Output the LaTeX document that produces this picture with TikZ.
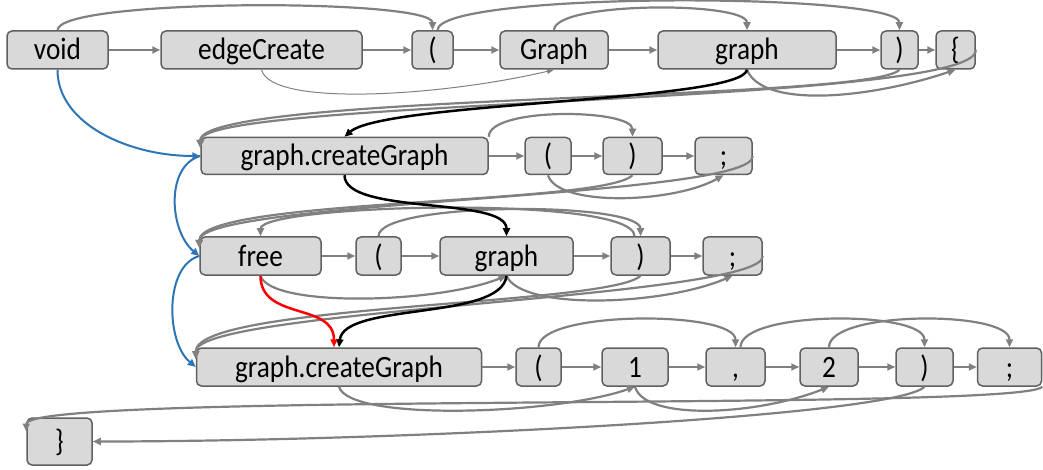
\documentclass[tikz,border=0pt]{standalone}
\usepackage{fontspec}
\setmainfont{Carlito}[FakeStretch=0.88]
\usetikzlibrary{arrows.meta}
\definecolor{tokfill}{HTML}{D9D9D9}
\definecolor{tokline}{HTML}{606060}
\definecolor{edgegray}{HTML}{808080}
\definecolor{ctrlblue}{HTML}{2E75B6}
\tikzset{
  tok/.style={draw=tokline, fill=tokfill, rounded corners=5pt, line width=1.5pt,
    minimum height=38pt, inner sep=0pt, text height=20pt, text depth=0pt,
    font=\fontsize{31}{36}\selectfont},
  nxt/.style={draw=edgegray, line width=2.2pt, -{Triangle[length=8pt,width=7pt]}},
  syn/.style={nxt},
  thinsyn/.style={draw=edgegray, line width=1pt, -{Triangle[length=7pt,width=5pt]}},
  ctrl/.style={draw=ctrlblue, line width=2pt, -{Triangle[length=8pt,width=7pt]}},
  dflow/.style={draw=black, line width=2.5pt, -{Triangle[length=8pt,width=7pt]}},
  bad/.style={draw=red, line width=2.5pt, -{Triangle[length=8pt,width=7pt]}}
}
\begin{document}
\begin{tikzpicture}[x=1pt, y=-1pt]
  \useasboundingbox (0,0) rectangle (1043,470);
  % tokens
  \node[tok, minimum width=101pt] (void) at (57.5,50) {void};
  \node[tok, minimum width=201pt] (edgeCreate) at (261.5,50) {edgeCreate};
  \node[tok, minimum width=41pt] (lp1) at (432.5,50) {(};
  \node[tok, minimum width=108pt] (Graph) at (554,50) {Graph};
  \node[tok, minimum width=178pt] (graph1) at (747,50) {graph};
  \node[tok, minimum width=37pt] (rp1) at (899.5,50) {)};
  \node[tok, minimum width=39pt] (lb) at (955.5,50) {\{};
  \node[tok, minimum width=287pt, minimum height=37pt] (gcg1) at (344.5,156) {graph.createGraph};
  \node[tok, minimum width=46pt, minimum height=37pt] (lp2) at (548,156) {(};
  \node[tok, minimum width=59pt, minimum height=37pt] (rp2) at (632.5,156) {)};
  \node[tok, minimum width=57pt, minimum height=37pt] (sc2) at (723.5,156) {;};
  \node[tok, minimum width=121pt] (free) at (260.5,256) {free};
  \node[tok, minimum width=45pt] (lp3) at (378.5,256) {(};
  \node[tok, minimum width=133pt] (graph3) at (506.5,256) {graph};
  \node[tok, minimum width=59pt] (rp3) at (640.5,256) {)};
  \node[tok, minimum width=59pt] (sc3) at (732.5,256) {;};
  \node[tok, minimum width=285pt] (gcg2) at (339,367) {graph.createGraph};
  \node[tok, minimum width=45pt] (lp4) at (538.5,367) {(};
  \node[tok, minimum width=66pt] (one) at (635,367) {1};
  \node[tok, minimum width=59pt] (comma) at (735.5,367) {,};
  \node[tok, minimum width=58pt] (two) at (829,367) {2};
  \node[tok, minimum width=57pt] (rp4) at (924.5,367) {)};
  \node[tok, minimum width=64pt] (sc4) at (1009.5,367) {;};
  \node[tok, minimum width=65pt, minimum height=47pt] (rb) at (59.5,441.5) {\}};
  % next token
  \draw[nxt] (void) -- (edgeCreate);
  \draw[nxt] (edgeCreate) -- (lp1);
  \draw[nxt] (lp1) -- (Graph);
  \draw[nxt] (Graph) -- (graph1);
  \draw[nxt] (graph1) -- (rp1);
  \draw[nxt] (rp1) -- (lb);
  \draw[nxt] (gcg1) -- (lp2);
  \draw[nxt] (lp2) -- (rp2);
  \draw[nxt] (rp2) -- (sc2);
  \draw[nxt] (free) -- (lp3);
  \draw[nxt] (lp3) -- (graph3);
  \draw[nxt] (graph3) -- (rp3);
  \draw[nxt] (rp3) -- (sc3);
  \draw[nxt] (gcg2) -- (lp4);
  \draw[nxt] (lp4) -- (one);
  \draw[nxt] (one) -- (comma);
  \draw[nxt] (comma) -- (two);
  \draw[nxt] (two) -- (rp4);
  \draw[nxt] (rp4) -- (sc4);
  % row 1 arcs
  \draw[syn] (void.north) .. controls +(0,-32) and +(0,-32) .. (lp1.north);
  \draw[syn] ([xshift=5pt]lp1.north) .. controls +(0,-39) and +(0,-38) .. (rp1.north);
  \draw[syn] (Graph.north) .. controls +(0,-29) and +(0,-29) .. (graph1.north);
  \draw[thinsyn] (edgeCreate.south) .. controls +(10,38) and +(-110,26) .. (Graph.south);
  \draw[syn] (graph1.south) .. controls +(15,38) and +(-90,30) .. (lb.south);
  \draw[syn] (rp1.south) .. controls +(-30,32) and +(0,-55) .. ([yshift=8pt]gcg1.west);
  \draw[syn] (lb.east) .. controls +(3,55) and +(0,-50) .. ([yshift=8pt]gcg1.west);
  % row 2 arcs
  \draw[syn] (gcg1.north east) .. controls +(0,-30) and +(0,-28) .. (rp2.north);
  \draw[syn] (lp2.south) .. controls +(10,32) and +(-50,28) .. (sc2.south);
  \draw[syn] (rp2.south) .. controls +(-30,30) and +(0,-50) .. ([yshift=8pt]free.west);
  \draw[syn] (sc2.east) .. controls +(2,42) and +(0,-48) .. ([yshift=8pt]free.west);
  % row 3 arcs
  \draw[syn] (lp3.north) .. controls +(0,-35) and +(0,-35) .. (rp3.north);
  \draw[syn] ([xshift=-6pt]rp3.north) .. controls +(0,-42) and +(0,-32) .. (free.north);
  \draw[syn] (free.south) .. controls +(10,32) and +(-70,28) .. (graph3.south);
  \draw[syn] (graph3.south) .. controls +(15,35) and +(-70,30) .. (sc3.south);
  \draw[syn] (rp3.south) .. controls +(-30,30) and +(0,-55) .. ([yshift=8pt]gcg2.west);
  \draw[syn] (sc3.east) .. controls +(2,42) and +(0,-50) .. ([yshift=8pt]gcg2.west);
  % row 4 arcs
  \draw[syn] (lp4.north) .. controls +(0,-37) and +(0,-37) .. (comma.north);
  \draw[syn] ([xshift=5pt]comma.north) .. controls +(0,-37) and +(0,-37) .. (rp4.north);
  \draw[syn] (two.north) .. controls +(0,-37) and +(0,-37) .. (sc4.north);
  \draw[syn] (gcg2.south) .. controls +(10,35) and +(-80,28) .. (one.south);
  \draw[syn] (one.south) .. controls +(10,35) and +(-70,28) .. (two.south);
  \draw[syn] (rp4.south) .. controls +(-30,30) and +(300,0) .. (rb.east);
  \draw[syn] (sc4.south east) .. controls +(-20,25) and +(0,-40) .. ([yshift=10pt]rb.west);
  % control flow
  \draw[ctrl] (void.south) .. controls +(0,55) and +(-70,0) .. (gcg1.west);
  \draw[ctrl] (gcg1.west) .. controls +(-35,10) and +(-30,-25) .. (free.west);
  \draw[ctrl] (free.west) .. controls +(-35,10) and +(-30,-25) .. (gcg2.west);
  % data flow of graph
  \draw[dflow] (graph1.south) .. controls +(-5,32) and +(40,-35) .. (gcg1.north);
  \draw[dflow] (gcg1.south) .. controls +(0,40) and +(0,-40) .. (graph3.north);
  \draw[dflow] (graph3.south) .. controls +(-5,45) and +(5,-45) .. (gcg2.north);
  \draw[bad] (free.south) .. controls +(0,45) and +(0,-45) .. ([xshift=-5pt]gcg2.north);
\end{tikzpicture}
\end{document}
